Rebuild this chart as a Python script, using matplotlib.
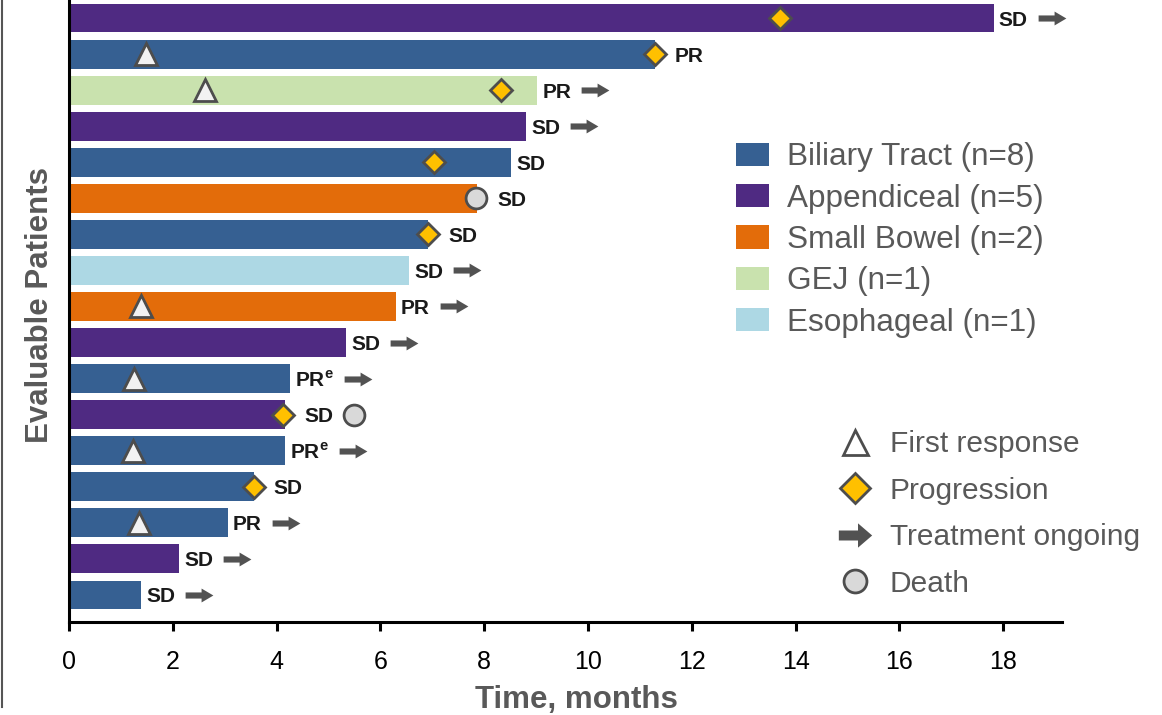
import matplotlib.pyplot as plt
from matplotlib.patches import Patch
from matplotlib.lines import Line2D
from matplotlib.path import Path
from matplotlib.transforms import offset_copy

plt.rcParams['font.family'] = ['Liberation Sans', 'DejaVu Sans']
plt.rcParams['mathtext.fontset'] = 'custom'
plt.rcParams['mathtext.rm'] = 'Liberation Sans'
plt.rcParams['mathtext.bf'] = 'Liberation Sans:bold'

# tumour groups
tumor_types = ["Biliary Tract", "Appendiceal", "Small Bowel", "GEJ", "Esophageal"]
type_counts = [8, 5, 2, 1, 1]
type_colors = ["#366092", "#4f2a82", "#e36c0a", "#c9e2ae", "#add8e4"]

# one entry per patient, longest on top
patient_type = ["Appendiceal", "Biliary Tract", "GEJ", "Appendiceal", "Biliary Tract",
                "Small Bowel", "Biliary Tract", "Esophageal", "Small Bowel", "Appendiceal",
                "Biliary Tract", "Appendiceal", "Biliary Tract", "Biliary Tract",
                "Biliary Tract", "Appendiceal", "Biliary Tract"]
duration = [17.82, 11.29, 9.02, 8.81, 8.52, 7.86, 6.92, 6.55, 6.30, 5.34,
            4.26, 4.16, 4.16, 3.56, 3.06, 2.12, 1.39]
best_response = ["SD", "PR", "PR", "SD", "SD", "SD", "SD", "SD", "PR", "SD",
                 "PRe", "SD", "PRe", "SD", "PR", "SD", "SD"]
ongoing = [True, False, True, True, False, False, False, True, True, True,
           True, False, True, False, True, True, True]
first_response = [None, 1.48, 2.62, None, None, None, None, None, 1.39, None,
                  1.25, None, 1.23, None, 1.35, None, None]
progression = [13.70, 11.29, 8.32, None, 7.03, None, 6.92, None, None, None,
               None, 4.13, None, 3.56, None, None, None]
death = [None, None, None, None, None, 7.84, None, None, None, None,
         None, 5.49, None, None, None, None, None]

xticks = list(range(0, 20, 2))

EDGE = "#4d4d4d"
ARROW = "#525252"
TEXT_GRAY = "#595959"


def arrow_path(tail, head):
    return Path([(-1, -tail), (0.15, -tail), (0.15, -head), (1, 0),
                 (0.15, head), (0.15, tail), (-1, tail), (-1, -tail)], closed=True)


arrow_marker = arrow_path(0.22, 0.5)
arrow_marker_big = arrow_path(0.30, 0.73)

fig = plt.figure(figsize=(11.62, 7.15), dpi=100)
ax = fig.add_axes([69 / 1162, 93 / 715, 993 / 1162, 622 / 715])

n = len(duration)
ypos = [n - 1 - i for i in range(n)]
color_of = dict(zip(tumor_types, type_colors))

ax.barh(ypos, duration, height=0.8, left=0,
        color=[color_of[t] for t in patient_type], zorder=2)

for y, fr, pr, d in zip(ypos, first_response, progression, death):
    if fr is not None:
        ax.plot(fr, y, marker="^", ms=16, mfc="#f2f2f2", mec=EDGE, mew=2, zorder=4)
    if pr is not None:
        ax.plot(pr, y, marker="D", ms=11, mfc="#ffc000", mec=EDGE, mew=2, zorder=4)
    if d is not None:
        ax.plot(d, y, marker="o", ms=15, mfc="#d9d9d9", mec=EDGE, mew=2, zorder=4)

# response labels, pushed further right when a marker sits on the bar end
texts = []
for y, dur, resp, pr, d in zip(ypos, duration, best_response, progression, death):
    at_end = any(v is not None and abs(v - dur) < 0.1 for v in (pr, d))
    pad = 14.4 if at_end else 3.6
    trans = offset_copy(ax.transData, fig=fig, x=pad, y=0, units="points")
    label = r"PR$^{\mathbf{e}}$" if resp == "PRe" else resp
    t = ax.text(dur, y, label, transform=trans, ha="left", va="center_baseline",
                fontsize=15, fontweight="bold", color="#1a1a1a", zorder=5)
    texts.append(t)

ax.set_xlim(0, 993 / 51.9)
ax.set_ylim(-0.75, n - 0.5)
ax.set_xticks(xticks)
ax.set_yticks([])
for side in ("top", "right"):
    ax.spines[side].set_visible(False)
for side in ("left", "bottom"):
    ax.spines[side].set_linewidth(2.2)
    ax.spines[side].set_color("black")
ax.tick_params(axis="x", direction="out", length=6.5, width=2.2, labelsize=18,
               pad=13.5, colors="black")

ax.set_xlabel("Time, months", fontsize=22.5, fontweight="bold", color=TEXT_GRAY)
ax.xaxis.set_label_coords(0.511, -0.102)
ax.set_ylabel("Evaluable Patients", fontsize=22.5, fontweight="bold", color=TEXT_GRAY)
ax.yaxis.set_label_coords(-0.014, 0.51)

# "treatment ongoing" arrows placed just right of each label
fig.canvas.draw()
renderer = fig.canvas.get_renderer()
inv = ax.transData.inverted()
for t, y, on in zip(texts, ypos, ongoing):
    if not on:
        continue
    bb = t.get_window_extent(renderer)
    y_disp = ax.transData.transform((0, y))[1]
    x_data = inv.transform((bb.x1 + 10 + 14, y_disp))[0]
    ax.plot(x_data, y, marker=arrow_marker, ms=20, color=ARROW, mew=0, zorder=5,
            clip_on=False)

type_handles = [Patch(facecolor=c, edgecolor="none") for c in type_colors]
type_labels = [f"{t} (n={k})" for t, k in zip(tumor_types, type_counts)]
leg1 = ax.legend(type_handles, type_labels, loc="center left",
                 bbox_to_anchor=(736 / 1162, 1 - 240 / 715), bbox_transform=fig.transFigure,
                 frameon=False, fontsize=22.7, handlelength=1.05, handleheight=0.77,
                 handletextpad=0.57, labelspacing=0.36, borderpad=0, borderaxespad=0,
                 labelcolor=TEXT_GRAY)
ax.add_artist(leg1)

event_handles = [
    Line2D([], [], ls="none", marker="^", ms=18, mfc="white", mec=EDGE, mew=2),
    Line2D([], [], ls="none", marker="D", ms=15.5, mfc="#ffc000", mec=EDGE, mew=2),
    Line2D([], [], ls="none", marker=arrow_marker_big, ms=24, color=ARROW, mew=0),
    Line2D([], [], ls="none", marker="o", ms=16.5, mfc="#d9d9d9", mec=EDGE, mew=2),
]
event_labels = ["First response", "Progression", "Treatment ongoing", "Death"]
ax.legend(event_handles, event_labels, loc="center left", numpoints=1,
          bbox_to_anchor=(832 / 1162, 1 - 514 / 715), bbox_transform=fig.transFigure,
          frameon=False, fontsize=21.5, handlelength=1.53, handletextpad=0.4,
          labelspacing=0.62, borderpad=0, borderaxespad=0, labelcolor=TEXT_GRAY)

fig.add_artist(Line2D([2 / 1162, 2 / 1162], [1, 1 - 707 / 715],
                      transform=fig.transFigure, color="#555555", lw=1.5))

fig.savefig("out.png", dpi=100)
